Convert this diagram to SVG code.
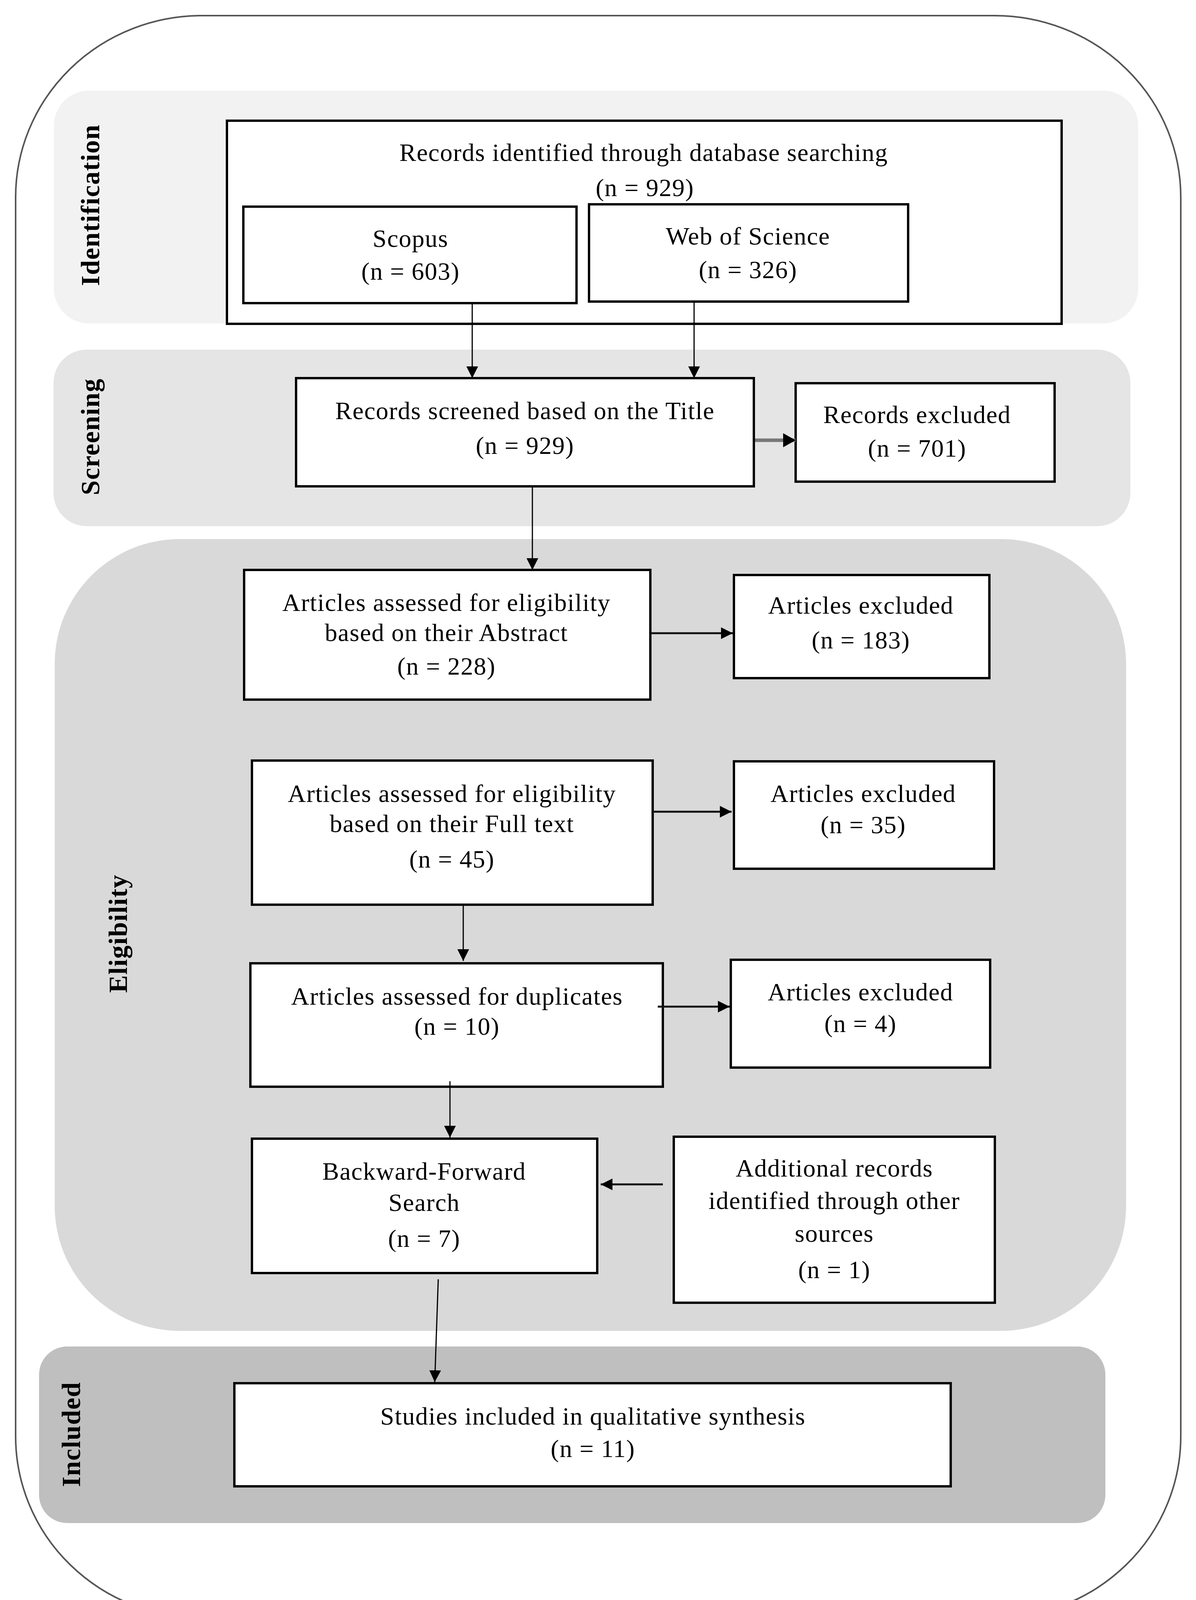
<svg xmlns="http://www.w3.org/2000/svg" width="3062" height="4183" viewBox="0 0 3062 4183">
<style>
.box{fill:#ffffff;stroke:#000000;stroke-width:6}
.t{font-family:"Liberation Serif","Times New Roman",serif;font-size:64px;letter-spacing:1.5px;fill:#000;text-anchor:middle}
.lab{font-family:"Liberation Serif","Times New Roman",serif;font-size:68px;font-weight:bold;letter-spacing:1.5px;fill:#000;text-anchor:middle}
.c{fill:none;stroke:#000;stroke-width:3}
.cw{fill:none;stroke:#111;stroke-width:5}
.cg{fill:none;stroke:#777;stroke-width:9}
</style>
<defs>
<marker id="ah" markerUnits="userSpaceOnUse" viewBox="0 0 30 30" refX="30" refY="15" markerWidth="30" markerHeight="30" orient="auto">
<path d="M0,0 L30,15 L0,30 z" fill="#000"/>
</marker>
<marker id="ahb" markerUnits="userSpaceOnUse" viewBox="0 0 32 36" refX="32" refY="18" markerWidth="32" markerHeight="36" orient="auto">
<path d="M0,0 L32,18 L0,36 z" fill="#000"/>
</marker>
</defs>
<rect width="3062" height="4183" fill="#ffffff"/>
<g id="frame">
<rect x="40" y="40" width="2983" height="4102" rx="477" ry="465" fill="#ffffff" stroke="#555" stroke-width="4"/>
</g>
<g id="bands">
<rect id="band-identification" x="138" y="232" width="2776" height="596" rx="90" fill="#f2f2f2"/>
<rect id="band-screening" x="137" y="895" width="2757" height="452" rx="85" fill="#e5e5e5"/>
<rect id="band-eligibility" x="140" y="1380" width="2743" height="2027" rx="320" fill="#d9d9d9"/>
<rect id="band-included" x="100" y="3447" width="2730" height="452" rx="72" fill="#bfbfbf"/>
<text class="lab" transform="translate(254,525) rotate(-90)">Identification</text>
<text class="lab" transform="translate(254,1118) rotate(-90)">Screening</text>
<text class="lab" transform="translate(325,2390) rotate(-90)">Eligibility</text>
<text class="lab" transform="translate(205,3672) rotate(-90)">Included</text>
</g>
<g id="n-identified">
<rect class="box" x="581" y="309" width="2137" height="520"/>
<text class="t" x="1648" y="412">Records identified through database searching</text>
<text class="t" x="1651" y="502">(n = 929)</text>
</g>
<g id="n-scopus">
<rect class="box" x="623" y="529" width="853" height="247"/>
<text class="t" x="1051" y="632">Scopus</text>
<text class="t" x="1051" y="716">(n = 603)</text>
</g>
<g id="n-wos">
<rect class="box" x="1508" y="523" width="817" height="249"/>
<text class="t" x="1915" y="626">Web of Science</text>
<text class="t" x="1915" y="712">(n = 326)</text>
</g>
<g id="n-screened">
<rect class="box" x="758" y="968" width="1172" height="277"/>
<text class="t" x="1344" y="1073">Records screened based on the Title</text>
<text class="t" x="1344" y="1162">(n = 929)</text>
</g>
<g id="n-rec-excluded">
<rect class="box" x="2037" y="981" width="663" height="252"/>
<text class="t" x="2348" y="1083">Records excluded</text>
<text class="t" x="2348" y="1169">(n = 701)</text>
</g>
<g id="n-abstract">
<rect class="box" x="625" y="1459" width="1040" height="332"/>
<text class="t" x="1143" y="1564">Articles assessed for eligibility</text>
<text class="t" x="1143" y="1641">based on their Abstract</text>
<text class="t" x="1143" y="1727">(n = 228)</text>
</g>
<g id="n-excl183">
<rect class="box" x="1879" y="1472" width="654" height="264"/>
<text class="t" x="2204" y="1571">Articles excluded</text>
<text class="t" x="2204" y="1660">(n = 183)</text>
</g>
<g id="n-fulltext">
<rect class="box" x="645" y="1947" width="1026" height="369"/>
<text class="t" x="1157" y="2053">Articles assessed for eligibility</text>
<text class="t" x="1157" y="2130">based on their Full text</text>
<text class="t" x="1157" y="2221">(n = 45)</text>
</g>
<g id="n-excl35">
<rect class="box" x="1879" y="1949" width="666" height="275"/>
<text class="t" x="2210" y="2053">Articles excluded</text>
<text class="t" x="2210" y="2133">(n = 35)</text>
</g>
<g id="n-duplicates">
<rect class="box" x="641" y="2466" width="1056" height="316"/>
<text class="t" x="1170" y="2572">Articles assessed for duplicates</text>
<text class="t" x="1170" y="2649">(n = 10)</text>
</g>
<g id="n-excl4">
<rect class="box" x="1871" y="2457" width="664" height="276"/>
<text class="t" x="2203" y="2561">Articles excluded</text>
<text class="t" x="2203" y="2642">(n = 4)</text>
</g>
<g id="n-backward">
<rect class="box" x="645" y="2915" width="884" height="344"/>
<text class="t" x="1086" y="3020">Backward-Forward</text>
<text class="t" x="1086" y="3100">Search</text>
<text class="t" x="1086" y="3192">(n = 7)</text>
</g>
<g id="n-additional">
<rect class="box" x="1725" y="2910" width="822" height="425"/>
<text class="t" x="2136" y="3012">Additional records</text>
<text class="t" x="2136" y="3095">identified through other</text>
<text class="t" x="2136" y="3179">sources</text>
<text class="t" x="2136" y="3272">(n = 1)</text>
</g>
<g id="n-studies">
<rect class="box" x="600" y="3541" width="1834" height="264"/>
<text class="t" x="1518" y="3647">Studies included in qualitative synthesis</text>
<text class="t" x="1518" y="3730">(n = 11)</text>
</g>
<g id="connectors">
<line class="c" x1="1209" y1="779" x2="1209" y2="968" marker-end="url(#ah)"/>
<line class="c" x1="1777" y1="775" x2="1777" y2="968" marker-end="url(#ah)"/>
<line class="cg" x1="1933" y1="1127" x2="2037" y2="1127" marker-end="url(#ahb)"/>
<line class="c" x1="1363" y1="1248" x2="1363" y2="1459" marker-end="url(#ah)"/>
<line class="cw" x1="1665" y1="1621" x2="1876" y2="1621" marker-end="url(#ah)"/>
<line class="cw" x1="1671" y1="2078" x2="1873" y2="2078" marker-end="url(#ah)"/>
<line class="c" x1="1186" y1="2319" x2="1186" y2="2460" marker-end="url(#ah)"/>
<line class="cw" x1="1684" y1="2577" x2="1868" y2="2577" marker-end="url(#ah)"/>
<line class="c" x1="1152" y1="2768" x2="1152" y2="2912" marker-end="url(#ah)"/>
<line class="cw" x1="1697" y1="3032" x2="1538" y2="3032" marker-end="url(#ah)"/>
<line class="c" x1="1122" y1="3275" x2="1113" y2="3538" marker-end="url(#ah)"/>
</g>
</svg>
